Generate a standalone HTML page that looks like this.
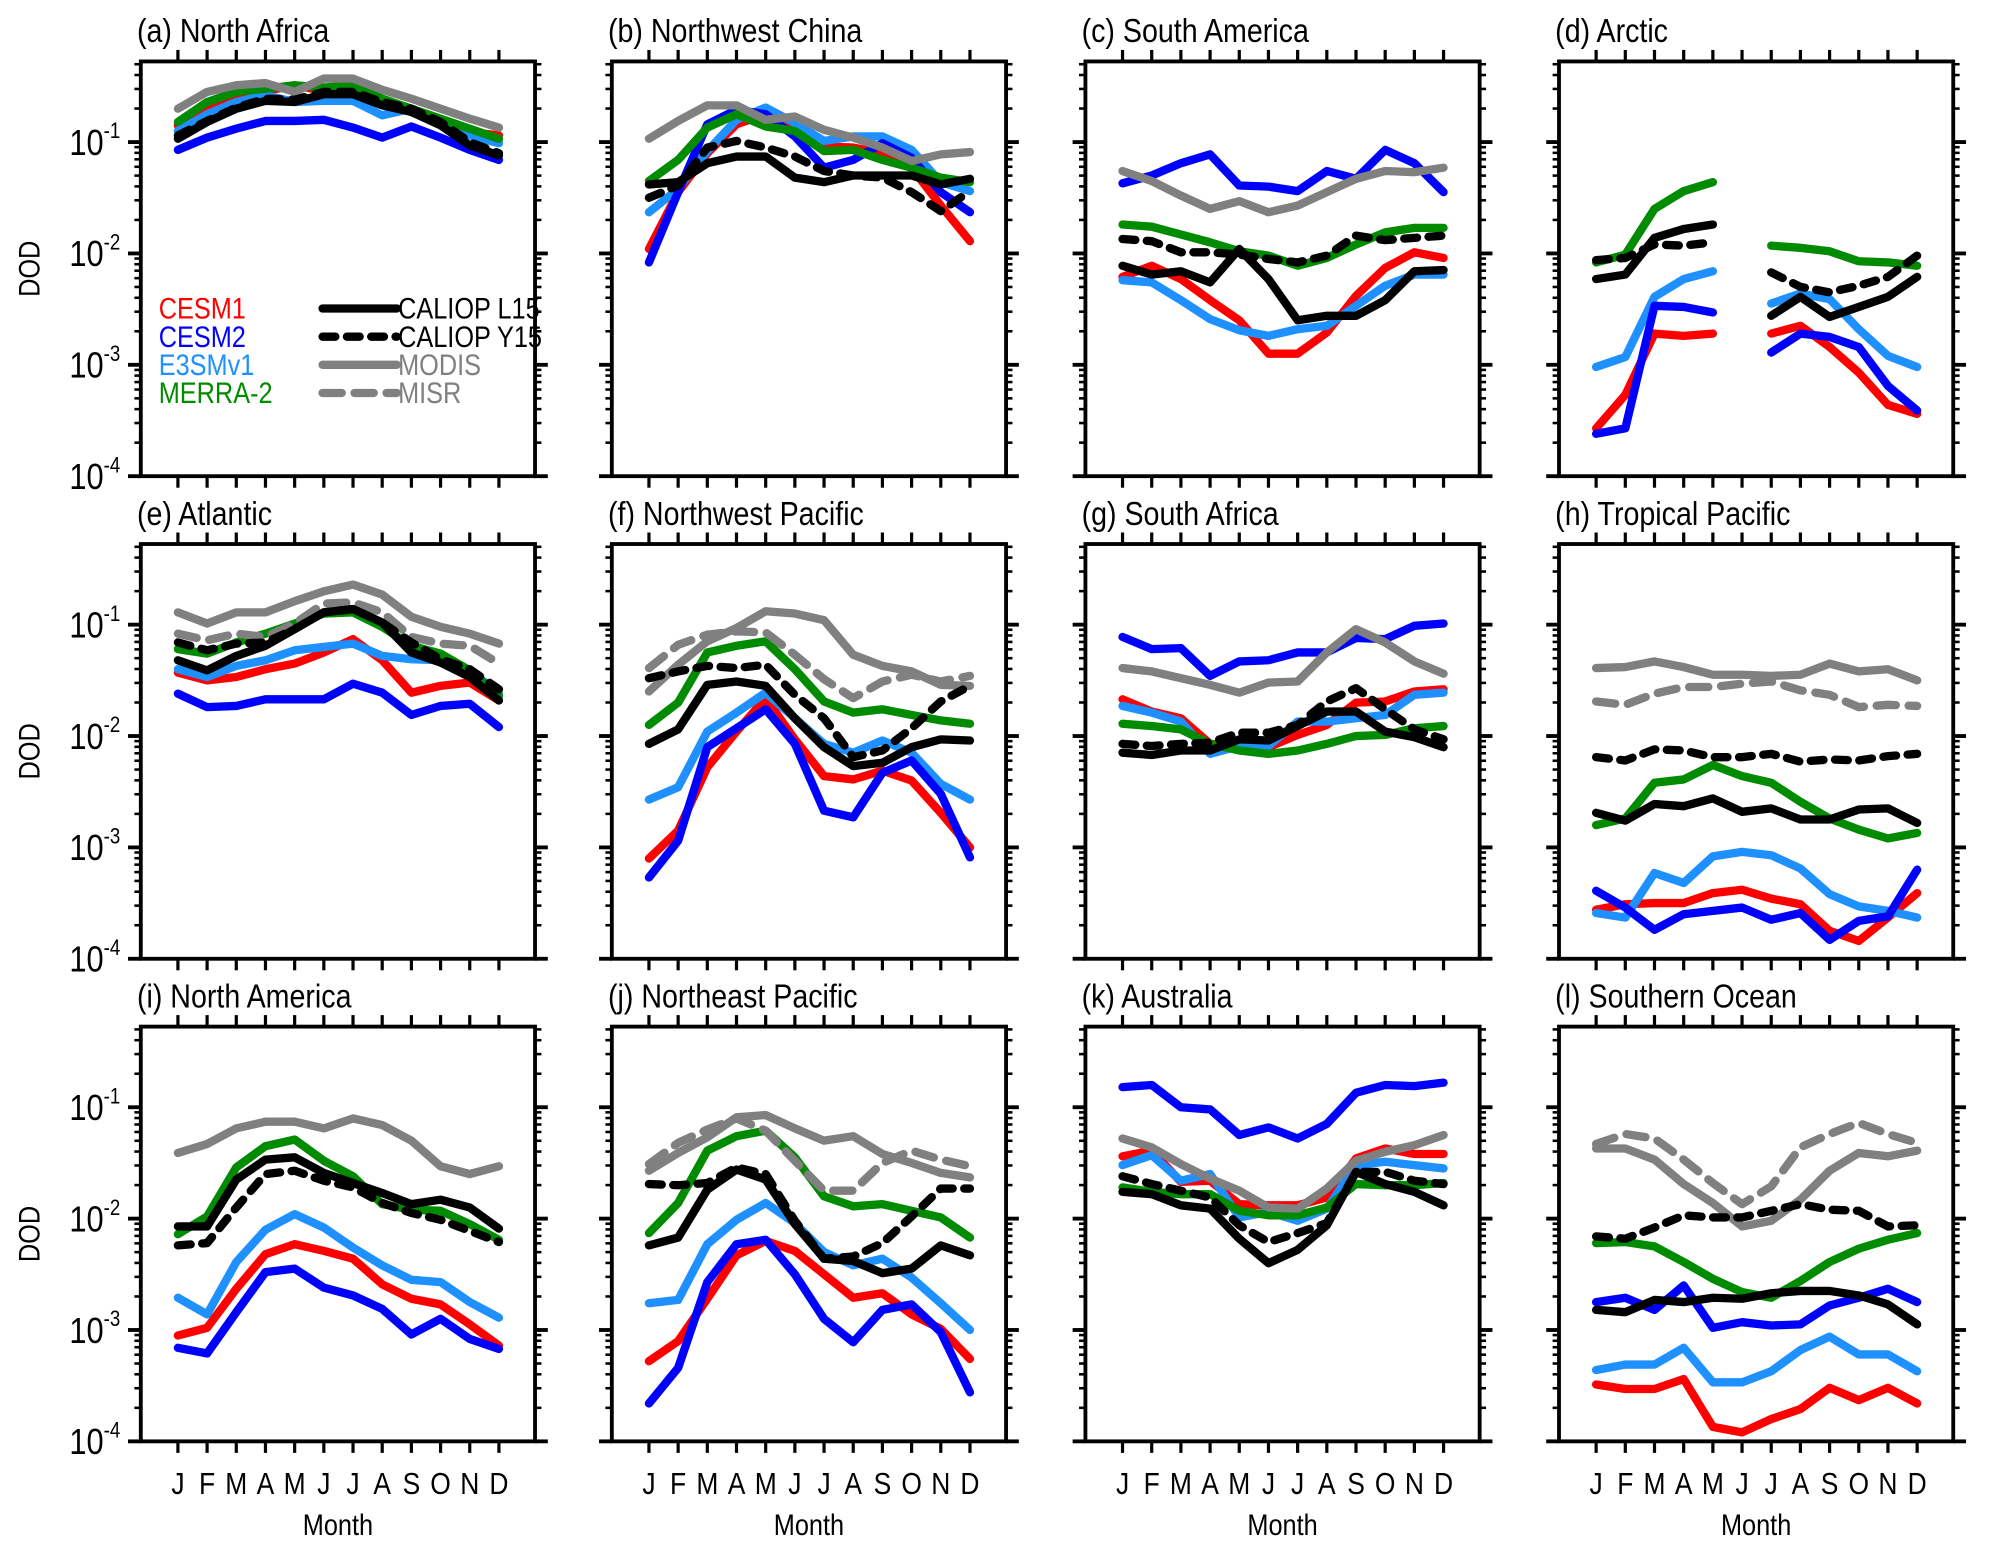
<!DOCTYPE html>
<html><head><meta charset="utf-8"><title>Monthly DOD by region</title>
<style>
html,body{margin:0;padding:0;background:#fff;}
svg{display:block;font-family:"Liberation Sans",Arial,sans-serif;}
</style></head>
<body>
<svg id="chart" width="2007" height="1554" viewBox="0 0 1568 1214" preserveAspectRatio="none" xmlns="http://www.w3.org/2000/svg"></svg>
<script>
// ---- data: log10(DOD), months J..D ----
const months = ['J','F','M','A','M','J','J','A','S','O','N','D'];
const panelTitles = ['(a) North Africa','(b) Northwest China','(c) South America','(d) Arctic',
 '(e) Atlantic','(f) Northwest Pacific','(g) South Africa','(h) Tropical Pacific',
 '(i) North America','(j) Northeast Pacific','(k) Australia','(l) Southern Ocean'];
const seriesNames = ['CESM1','CESM2','E3SMv1','MERRA-2','CALIOP L15','CALIOP Y15','MODIS','MISR'];
const yTickExps = [-1,-2,-3,-4];
const yTickLabels = ['-1','-2','-3','-4'];

const a_cesm1=[-0.85,-0.70,-0.61,-0.54,-0.49,-0.54,-0.54,-0.64,-0.73,-0.82,-0.91,-0.94];
const a_cesm2=[-1.07,-0.96,-0.88,-0.81,-0.81,-0.80,-0.87,-0.96,-0.86,-0.96,-1.07,-1.16];
const a_e3sm=[-0.90,-0.75,-0.64,-0.58,-0.64,-0.63,-0.63,-0.76,-0.70,-0.82,-0.94,-1.01];
const a_merra=[-0.82,-0.64,-0.55,-0.52,-0.49,-0.51,-0.49,-0.61,-0.70,-0.79,-0.88,-0.97];
const a_l15=[-0.97,-0.82,-0.70,-0.63,-0.64,-0.57,-0.57,-0.67,-0.73,-0.85,-1.03,-1.12];
const a_y15=[-0.94,-0.81,-0.69,-0.61,-0.62,-0.55,-0.55,-0.64,-0.70,-0.82,-1.00,-1.10];
const a_modis=[-0.70,-0.55,-0.49,-0.47,-0.55,-0.43,-0.43,-0.53,-0.61,-0.70,-0.79,-0.87];
const a_misr=null;

const b_cesm1=[-1.96,-1.45,-1.10,-0.84,-0.75,-0.84,-1.04,-1.05,-1.10,-1.23,-1.57,-1.89];
const b_cesm2=[-2.08,-1.45,-0.84,-0.71,-0.75,-0.95,-1.23,-1.16,-1.01,-1.14,-1.45,-1.63];
const b_e3sm=[-1.63,-1.42,-1.08,-0.80,-0.69,-0.83,-0.99,-0.95,-0.95,-1.07,-1.36,-1.44];
const b_merra=[-1.35,-1.16,-0.87,-0.75,-0.86,-0.90,-1.08,-1.07,-1.16,-1.23,-1.32,-1.36];
const b_l15=[-1.38,-1.36,-1.19,-1.13,-1.13,-1.32,-1.36,-1.30,-1.30,-1.30,-1.38,-1.33];
const b_y15=[-1.50,-1.39,-1.05,-0.99,-1.05,-1.13,-1.26,-1.30,-1.32,-1.45,-1.62,-1.44];
const b_modis=[-0.97,-0.81,-0.67,-0.67,-0.80,-0.77,-0.89,-0.96,-1.05,-1.17,-1.11,-1.09];
const b_misr=null;

const c_cesm1=[-2.21,-2.11,-2.23,-2.42,-2.60,-2.90,-2.90,-2.71,-2.38,-2.13,-1.99,-2.04];
const c_cesm2=[-1.37,-1.30,-1.19,-1.11,-1.39,-1.40,-1.44,-1.26,-1.33,-1.07,-1.19,-1.45];
const c_e3sm=[-2.24,-2.26,-2.42,-2.59,-2.69,-2.74,-2.68,-2.65,-2.47,-2.29,-2.19,-2.19];
const c_merra=[-1.74,-1.76,-1.83,-1.90,-1.98,-2.02,-2.11,-2.04,-1.92,-1.81,-1.77,-1.77];
const c_l15=[-2.11,-2.19,-2.16,-2.26,-1.96,-2.23,-2.60,-2.56,-2.56,-2.42,-2.16,-2.15];
const c_y15=[-1.87,-1.89,-1.99,-1.99,-2.01,-2.05,-2.08,-2.02,-1.84,-1.88,-1.86,-1.84];
const c_modis=[-1.26,-1.35,-1.48,-1.60,-1.53,-1.63,-1.57,-1.45,-1.33,-1.26,-1.27,-1.23];
const c_misr=null;

const d_cesm1=[-3.57,-3.27,-2.72,-2.74,-2.72,null,-2.72,-2.65,-2.84,-3.07,-3.36,-3.44];
const d_cesm2=[-3.62,-3.57,-2.47,-2.48,-2.53,null,-2.89,-2.72,-2.75,-2.84,-3.19,-3.41];
const d_e3sm=[-3.02,-2.93,-2.39,-2.23,-2.16,null,-2.45,-2.36,-2.41,-2.68,-2.92,-3.02];
const d_merra=[-2.08,-2.01,-1.60,-1.44,-1.36,null,-1.93,-1.95,-1.98,-2.07,-2.08,-2.11];
const d_l15=[-2.23,-2.19,-1.86,-1.78,-1.74,null,-2.56,-2.39,-2.57,-2.48,-2.39,-2.21];
const d_y15=[-2.06,-2.04,-1.92,-1.93,-1.90,null,-2.17,-2.30,-2.35,-2.29,-2.21,-2.02];
const d_modis=null;
const d_misr=null;

const e_cesm1=[-1.43,-1.50,-1.47,-1.40,-1.35,-1.25,-1.13,-1.32,-1.61,-1.55,-1.52,-1.68];
const e_cesm2=[-1.62,-1.74,-1.73,-1.67,-1.67,-1.67,-1.53,-1.61,-1.81,-1.73,-1.71,-1.92];
const e_e3sm=[-1.40,-1.47,-1.37,-1.32,-1.23,-1.20,-1.17,-1.28,-1.31,-1.32,-1.41,-1.62];
const e_merra=[-1.22,-1.26,-1.16,-1.08,-0.99,-0.90,-0.89,-1.02,-1.19,-1.26,-1.41,-1.64];
const e_l15=[-1.32,-1.41,-1.28,-1.19,-1.04,-0.89,-0.86,-0.98,-1.25,-1.34,-1.47,-1.68];
const e_y15=[-1.16,-1.23,-1.17,-1.16,-1.04,-0.89,-0.86,-0.98,-1.16,-1.31,-1.40,-1.58];
const e_modis=[-0.89,-0.99,-0.89,-0.89,-0.79,-0.70,-0.64,-0.73,-0.93,-1.02,-1.08,-1.17];
const e_misr=[-1.08,-1.14,-1.08,-1.11,-0.99,-0.81,-0.80,-0.89,-1.11,-1.17,-1.19,-1.35];

const f_cesm1=[-3.10,-2.85,-2.28,-1.96,-1.66,-2.03,-2.36,-2.39,-2.31,-2.40,-2.69,-3.00];
const f_cesm2=[-3.27,-2.94,-2.10,-1.93,-1.76,-2.07,-2.67,-2.73,-2.33,-2.22,-2.52,-3.09];
const f_e3sm=[-2.57,-2.46,-1.96,-1.79,-1.61,-1.84,-2.07,-2.15,-2.04,-2.15,-2.43,-2.57];
const f_merra=[-1.90,-1.70,-1.25,-1.19,-1.15,-1.40,-1.69,-1.79,-1.76,-1.81,-1.86,-1.89];
const f_l15=[-2.07,-1.94,-1.54,-1.51,-1.55,-1.84,-2.10,-2.27,-2.24,-2.10,-2.03,-2.04];
const f_y15=[-1.48,-1.42,-1.37,-1.39,-1.36,-1.63,-1.84,-2.19,-2.13,-1.93,-1.69,-1.55];
const f_modis=[-1.60,-1.36,-1.15,-1.03,-0.88,-0.90,-0.96,-1.27,-1.37,-1.42,-1.54,-1.55];
const f_misr=[-1.39,-1.18,-1.09,-1.06,-1.07,-1.27,-1.49,-1.66,-1.51,-1.45,-1.51,-1.46];

const g_cesm1=[-1.67,-1.78,-1.84,-2.07,-2.09,-2.10,-1.99,-1.90,-1.70,-1.69,-1.60,-1.58];
const g_cesm2=[-1.11,-1.22,-1.21,-1.46,-1.33,-1.32,-1.25,-1.25,-1.12,-1.13,-1.01,-0.99];
const g_e3sm=[-1.73,-1.79,-1.87,-2.16,-2.09,-2.09,-1.87,-1.87,-1.84,-1.81,-1.63,-1.61];
const g_merra=[-1.89,-1.91,-1.94,-2.07,-2.13,-2.16,-2.13,-2.07,-2.00,-1.99,-1.93,-1.91];
const g_l15=[-2.15,-2.17,-2.13,-2.13,-2.03,-2.04,-1.91,-1.78,-1.78,-1.96,-2.01,-2.10];
const g_y15=[-2.07,-2.09,-2.07,-2.06,-1.97,-1.97,-1.90,-1.69,-1.57,-1.76,-1.94,-2.03];
const g_modis=[-1.39,-1.42,-1.48,-1.54,-1.61,-1.52,-1.51,-1.25,-1.04,-1.16,-1.33,-1.44];
const g_misr=null;

const h_cesm1=[-3.56,-3.51,-3.50,-3.50,-3.41,-3.38,-3.46,-3.51,-3.75,-3.84,-3.63,-3.41];
const h_cesm2=[-3.39,-3.54,-3.74,-3.60,-3.57,-3.54,-3.65,-3.59,-3.83,-3.66,-3.62,-3.20];
const h_e3sm=[-3.59,-3.63,-3.23,-3.32,-3.08,-3.04,-3.07,-3.19,-3.42,-3.53,-3.57,-3.63];
const h_merra=[-2.80,-2.74,-2.42,-2.39,-2.26,-2.36,-2.42,-2.59,-2.74,-2.84,-2.92,-2.87];
const h_l15=[-2.69,-2.76,-2.61,-2.63,-2.56,-2.68,-2.65,-2.75,-2.75,-2.66,-2.65,-2.78];
const h_y15=[-2.19,-2.22,-2.12,-2.13,-2.19,-2.19,-2.16,-2.23,-2.21,-2.22,-2.18,-2.16];
const h_modis=[-1.39,-1.38,-1.33,-1.38,-1.45,-1.45,-1.46,-1.45,-1.35,-1.42,-1.40,-1.50];
const h_misr=[-1.69,-1.72,-1.62,-1.56,-1.56,-1.53,-1.51,-1.59,-1.63,-1.74,-1.72,-1.73];

const i_cesm1=[-3.05,-2.98,-2.63,-2.32,-2.23,-2.29,-2.36,-2.59,-2.72,-2.77,-2.95,-3.14];
const i_cesm2=[-3.16,-3.21,-2.84,-2.48,-2.45,-2.62,-2.69,-2.81,-3.04,-2.90,-3.08,-3.17];
const i_e3sm=[-2.71,-2.86,-2.39,-2.10,-1.96,-2.08,-2.26,-2.42,-2.55,-2.57,-2.75,-2.89];
const i_merra=[-2.14,-1.98,-1.54,-1.35,-1.29,-1.48,-1.62,-1.87,-1.92,-1.93,-2.05,-2.19];
const i_l15=[-2.07,-2.07,-1.65,-1.47,-1.45,-1.59,-1.68,-1.77,-1.87,-1.83,-1.90,-2.09];
const i_y15=[-2.24,-2.22,-1.90,-1.60,-1.57,-1.66,-1.72,-1.86,-1.95,-2.01,-2.11,-2.21];
const i_modis=[-1.41,-1.33,-1.19,-1.13,-1.13,-1.19,-1.10,-1.16,-1.30,-1.53,-1.60,-1.53];
const i_misr=null;

const j_cesm1=[-3.28,-3.10,-2.72,-2.33,-2.20,-2.29,-2.50,-2.71,-2.67,-2.86,-2.99,-3.26];
const j_cesm2=[-3.66,-3.34,-2.57,-2.23,-2.19,-2.50,-2.90,-3.11,-2.82,-2.77,-3.02,-3.56];
const j_e3sm=[-2.76,-2.73,-2.23,-2.01,-1.86,-2.04,-2.30,-2.42,-2.36,-2.53,-2.76,-3.00];
const j_merra=[-2.13,-1.86,-1.39,-1.26,-1.21,-1.45,-1.80,-1.89,-1.87,-1.93,-1.99,-2.17];
const j_l15=[-2.24,-2.17,-1.74,-1.56,-1.65,-2.05,-2.36,-2.38,-2.49,-2.45,-2.24,-2.33];
const j_y15=[-1.69,-1.70,-1.68,-1.54,-1.60,-2.02,-2.36,-2.34,-2.22,-1.98,-1.73,-1.73];
const j_modis=[-1.57,-1.41,-1.27,-1.09,-1.07,-1.19,-1.30,-1.26,-1.42,-1.50,-1.59,-1.63];
const j_misr=[-1.51,-1.32,-1.20,-1.10,-1.21,-1.48,-1.75,-1.75,-1.50,-1.39,-1.47,-1.53];

const k_cesm1=[-1.44,-1.39,-1.67,-1.66,-1.87,-1.88,-1.88,-1.81,-1.46,-1.37,-1.42,-1.42];
const k_cesm2=[-0.82,-0.80,-1.00,-1.02,-1.25,-1.18,-1.28,-1.15,-0.87,-0.80,-0.81,-0.78];
const k_e3sm=[-1.52,-1.43,-1.66,-1.60,-1.99,-1.94,-2.02,-1.91,-1.52,-1.49,-1.52,-1.55];
const k_merra=[-1.72,-1.76,-1.78,-1.78,-1.93,-1.97,-1.97,-1.90,-1.69,-1.70,-1.70,-1.68];
const k_l15=[-1.76,-1.78,-1.88,-1.91,-2.18,-2.40,-2.28,-2.06,-1.58,-1.69,-1.76,-1.88];
const k_y15=[-1.62,-1.69,-1.75,-1.81,-2.06,-2.21,-2.13,-2.04,-1.58,-1.58,-1.66,-1.69];
const k_modis=[-1.28,-1.36,-1.51,-1.64,-1.75,-1.90,-1.91,-1.73,-1.48,-1.40,-1.34,-1.25];
const k_misr=null;

const l_cesm1=[-3.49,-3.53,-3.53,-3.44,-3.87,-3.92,-3.80,-3.71,-3.52,-3.63,-3.52,-3.66];
const l_cesm2=[-2.75,-2.71,-2.82,-2.60,-2.98,-2.93,-2.96,-2.95,-2.78,-2.71,-2.63,-2.75];
const l_e3sm=[-3.36,-3.31,-3.31,-3.16,-3.47,-3.47,-3.37,-3.18,-3.06,-3.22,-3.22,-3.37];
const l_merra=[-2.22,-2.21,-2.25,-2.39,-2.54,-2.66,-2.71,-2.56,-2.39,-2.27,-2.19,-2.13];
const l_l15=[-2.82,-2.84,-2.73,-2.75,-2.71,-2.72,-2.67,-2.65,-2.65,-2.69,-2.77,-2.95];
const l_y15=[-2.16,-2.18,-2.08,-1.97,-1.99,-1.99,-1.93,-1.87,-1.92,-1.93,-2.07,-2.06];
const l_modis=[-1.37,-1.37,-1.47,-1.69,-1.86,-2.07,-2.02,-1.83,-1.57,-1.41,-1.44,-1.39];
const l_misr=[-1.33,-1.24,-1.28,-1.47,-1.68,-1.87,-1.71,-1.36,-1.24,-1.14,-1.24,-1.32];

const panelSeries = [
 [a_cesm1,a_cesm2,a_e3sm,a_merra,a_l15,a_y15,a_modis,a_misr],
 [b_cesm1,b_cesm2,b_e3sm,b_merra,b_l15,b_y15,b_modis,b_misr],
 [c_cesm1,c_cesm2,c_e3sm,c_merra,c_l15,c_y15,c_modis,c_misr],
 [d_cesm1,d_cesm2,d_e3sm,d_merra,d_l15,d_y15,d_modis,d_misr],
 [e_cesm1,e_cesm2,e_e3sm,e_merra,e_l15,e_y15,e_modis,e_misr],
 [f_cesm1,f_cesm2,f_e3sm,f_merra,f_l15,f_y15,f_modis,f_misr],
 [g_cesm1,g_cesm2,g_e3sm,g_merra,g_l15,g_y15,g_modis,g_misr],
 [h_cesm1,h_cesm2,h_e3sm,h_merra,h_l15,h_y15,h_modis,h_misr],
 [i_cesm1,i_cesm2,i_e3sm,i_merra,i_l15,i_y15,i_modis,i_misr],
 [j_cesm1,j_cesm2,j_e3sm,j_merra,j_l15,j_y15,j_modis,j_misr],
 [k_cesm1,k_cesm2,k_e3sm,k_merra,k_l15,k_y15,k_modis,k_misr],
 [l_cesm1,l_cesm2,l_e3sm,l_merra,l_l15,l_y15,l_modis,l_misr]
];

// ---- styles ----
const sColors = ['#ff0000','#0000ff','#1e90ff','#008b00','#000000','#000000','#808080','#808080'];
const sDash = [null,null,null,null,null,'10 9','none','15 10'];
const drawOrder = [0,2,1,3,6,7,4,5];

const NS = 'http://www.w3.org/2000/svg';
const svg = document.getElementById('chart');
function mk(tag, attrs, parent){
  const e = document.createElementNS(NS, tag);
  for (const k in attrs) e.setAttribute(k, attrs[k]);
  (parent||svg).appendChild(e);
  return e;
}

const boxLefts = [110, 478, 848, 1218];
const boxTops = [48, 425, 802];
const boxW = 308, boxH = 324;
const yTopExp = -0.276, yBotExp = -4;
const FONT_STRETCH = 0.86; // narrow text like the reference

function narrowText(parent, x, y, size, str, anchor, fill){
  const g = mk('g', {transform: 'translate(' + x + ',' + y + ') scale(' + FONT_STRETCH + ',1)'}, parent);
  const t = mk('text', {x: 0, y: 0, 'font-size': size, fill: fill || '#000', 'text-anchor': anchor || 'start'}, g);
  t.textContent = str;
  return t;
}

for (let p = 0; p < 12; p++) {
  const col = p % 4, row = Math.floor(p / 4);
  const L = boxLefts[col], T = boxTops[row];
  const g = mk('g', {});
  
  
  const xAt = i => L + 29 + i * 22.8;
  const yAt = v => T + (yTopExp - v) / (yTopExp - yBotExp) * boxH;

  // title
  const t = narrowText(g, L - 3, T - 15, 26, panelTitles[p]);
  
  

  // x ticks top & bottom
  for (let i = 0; i < 12; i++) {
    const x = xAt(i);
    const tk1 = mk('line', {x1: x, x2: x, y1: T - 9, y2: T, stroke: '#000', 'stroke-width': 2.5}, g);
    
    
    const tk2 = mk('line', {x1: x, x2: x, y1: T + boxH, y2: T + boxH + 9, stroke: '#000', 'stroke-width': 2.5}, g);
    
    
    if (row === 2) {
      const ml = narrowText(g, x, T + boxH + 41, 24, months[i], 'middle');
      
      
    }
  }
  if (row === 2) {
    const xl = narrowText(g, L + boxW / 2, T + boxH + 73, 23, 'Month', 'middle');
    
    
  }

  // y ticks (major & minor, outward both sides)
  for (let d = -4; d <= -1; d++) {
    for (let m = 1; m <= 9; m++) {
      const e = d + Math.log10(m);
      if (e > yTopExp + 1e-6) continue;
      const y = yAt(e);
      const len = m === 1 ? 10 : 5;
      const w = m === 1 ? 3 : 2;
      const t1 = mk('line', {x1: L - len, x2: L, y1: y, y2: y, stroke: '#000', 'stroke-width': w}, g);
      
      
      const t2 = mk('line', {x1: L + boxW, x2: L + boxW + len, y1: y, y2: y, stroke: '#000', 'stroke-width': w}, g);
      
      
    }
  }
  if (col === 0) {
    yTickExps.forEach((e, k) => {
      const y = yAt(e);
      const gg = mk('g', {transform: 'translate(' + (L - 16) + ',' + (y + 10) + ') scale(' + FONT_STRETCH + ',1)'}, g);
      const tl = mk('text', {x: 0, y: 0, 'font-size': 28, 'text-anchor': 'end', fill: '#000'}, gg);
      
      
      const b = document.createElementNS(NS, 'tspan'); b.textContent = '10'; tl.appendChild(b);
      const s = document.createElementNS(NS, 'tspan');
      s.setAttribute('font-size', 17); s.setAttribute('dy', -13); s.textContent = yTickLabels[k];
      tl.appendChild(s);
    });
    const yt = mk('text', {x: 0, y: 0, 'font-size': 23, 'text-anchor': 'middle', fill: '#000',
      transform: 'translate(31,' + (T + boxH / 2) + ') rotate(-90) scale(' + FONT_STRETCH + ',1)'}, g);
    yt.textContent = 'DOD';
    
    
  }

  // series
  const clipId = 'clip' + p;
  const cp = mk('clipPath', {id: clipId}, g);
  mk('rect', {x: L, y: T, width: boxW, height: boxH}, cp);
  const sg = mk('g', {'clip-path': 'url(#' + clipId + ')'}, g);
  drawOrder.forEach(si => {
    const vals = panelSeries[p][si];
    if (!vals) return;
    let d = '', pen = false;
    vals.forEach((v, i) => {
      if (v === null || v === undefined) { pen = false; return; }
      d += (pen ? 'L' : 'M') + xAt(i).toFixed(1) + ' ' + yAt(v).toFixed(1) + ' ';
      pen = true;
    });
    const attrs = {d: d, fill: 'none', stroke: sColors[si], 'stroke-width': 6.5,
      'stroke-linejoin': 'round', 'stroke-linecap': 'round'};
    if (sDash[si] && sDash[si] !== 'none') attrs['stroke-dasharray'] = sDash[si];
    const path = mk('path', attrs, sg);
    
    
  });

  // frame
  const fr = mk('rect', {x: L, y: T, width: boxW, height: boxH, fill: 'none', stroke: '#000', 'stroke-width': 3}, g);
  
  

  // legend in panel a
  if (p === 0) {
    const lg = mk('g', {}, g);
    
    
    const ys = [241, 263, 285, 307];
    for (let k = 0; k < 4; k++) {
      const tx = narrowText(lg, 124, ys[k] + 8, 23, seriesNames[k], 'start', sColors[k]);
      
      
    }
    for (let k = 0; k < 4; k++) {
      const si = 4 + k;
      const la = {x1: 252, x2: 310, y1: ys[k], y2: ys[k], stroke: sColors[si], 'stroke-width': 6.5, 'stroke-linecap': 'round'};
      if (sDash[si] && sDash[si] !== 'none') la['stroke-dasharray'] = sDash[si];
      const ln = mk('line', la, lg);
      
      
      const tx = narrowText(lg, 311, ys[k] + 8, 23, seriesNames[si], 'start', sColors[si]);
      
      
    }
  }
}
</script>
</body></html>
